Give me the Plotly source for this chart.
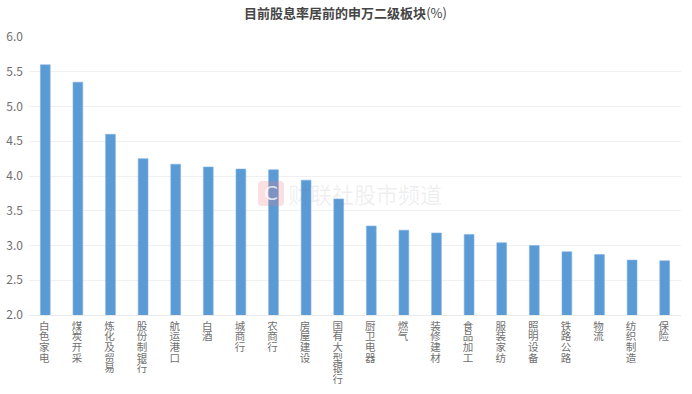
import plotly.graph_objects as go

categories = ["白色家电", "煤炭开采", "炼化及贸易", "股份制银行", "航运港口", "白酒", "城商行", "农商行", "房屋建设", "国有大型银行",
              "厨卫电器", "燃气", "装修建材", "食品加工", "服装家纺", "照明设备", "铁路公路", "物流", "纺织制造", "保险"]
values = [5.6, 5.35, 4.6, 4.25, 4.17, 4.13, 4.10, 4.09, 3.94, 3.67,
          3.28, 3.22, 3.18, 3.16, 3.04, 3.0, 2.91, 2.87, 2.79, 2.78]
y_ticks = [2.0, 2.5, 3.0, 3.5, 4.0, 4.5, 5.0, 5.5, 6.0]
title_main = "目前股息率居前的申万二级板块"
title_unit = "(%)"
watermark = "财联社股市频道"

FONT = "Noto Sans CJK SC"
W, H = 692, 394
L, R, T, B = 29, 681, 36.5, 315.5

stacked = ["<br>".join(c) for c in categories]

fig = go.Figure(go.Bar(x=categories, y=values, marker=dict(color="#5B9BD5", line=dict(color="#7FB1E0", width=0.6)),
                       width=0.3))
fig.update_layout(
    width=W, height=H, autosize=False, showlegend=False,
    paper_bgcolor="white", plot_bgcolor="white",
    margin=dict(l=L, r=W - R, t=T, b=H - B, pad=0, autoexpand=False),
    font=dict(family=FONT, color="#7a7a7a", size=12),
    title=dict(text="<b>" + title_main + "</b>" + title_unit, x=345.5 / W, xanchor="center", y=1 - 13 / H, yanchor="middle",
               font=dict(family=FONT, size=13, color="#454545")),
)
fig.update_xaxes(tickmode="array", tickvals=categories, ticktext=stacked, tickangle=0, automargin=False,
                 tickfont=dict(family=FONT, size=10.5, color="#6f6f6f"), ticks="", ticklen=0,
                 showline=True, linecolor="#e9e9e9", linewidth=1, showgrid=False)
fig.update_yaxes(range=[2, 6], tickmode="array", tickvals=y_ticks, ticktext=[f"{v:.1f}" for v in y_ticks], automargin=False,
                 tickfont=dict(family=FONT, size=12, color="#6f6f6f"), ticks="", showline=False, ticklabelstandoff=5,
                 showgrid=True, gridcolor="#f0f0f0", gridwidth=1, zeroline=False)

# watermark (logo + text)
fig.add_shape(type="path", xref="paper", yref="paper", layer="above", line=dict(width=0), fillcolor="rgba(240,120,130,0.24)",
              path="M {0} {2} L {1} {2} Q {4} {2} {4} {5} L {4} {6} Q {4} {3} {1} {3} L {0} {3} Q {7} {3} {7} {6} L {7} {5} Q {7} {2} {0} {2} Z".format(
                  (262-L)/(R-L), (280-L)/(R-L), (B-181)/(B-T), (B-206)/(B-T), (284-L)/(R-L), (B-185)/(B-T), (B-202)/(B-T), (258-L)/(R-L)))
fig.add_annotation(text="C", xref="paper", yref="paper", x=(271-L)/(R-L), y=(B-193.5)/(B-T), showarrow=False,
                   xanchor="center", yanchor="middle", font=dict(family="DejaVu Sans", size=20, color="rgba(255,255,255,0.75)"))
fig.add_annotation(text=watermark, xref="paper", yref="paper", x=(286-L)/(R-L), y=(B-193.5)/(B-T), showarrow=False,
                   xanchor="left", yanchor="middle", font=dict(family=FONT, size=22, color="rgba(120,120,120,0.12)"))

post = """
document.body.style.margin='0';
document.documentElement.style.overflow='hidden';
var gd=document.querySelector('.js-plotly-plot');
gd.querySelectorAll('.xtick text').forEach(function(t){
  t.querySelectorAll('tspan.line').forEach(function(s,i){ s.setAttribute('dy',(i*1.02)+'em'); });
  var old=t.getAttribute('transform')||'';
  t.setAttribute('transform','translate(-1,1) '+old);
});
"""
fig.write_html("out.html", post_script=post, config={"displayModeBar": False})
